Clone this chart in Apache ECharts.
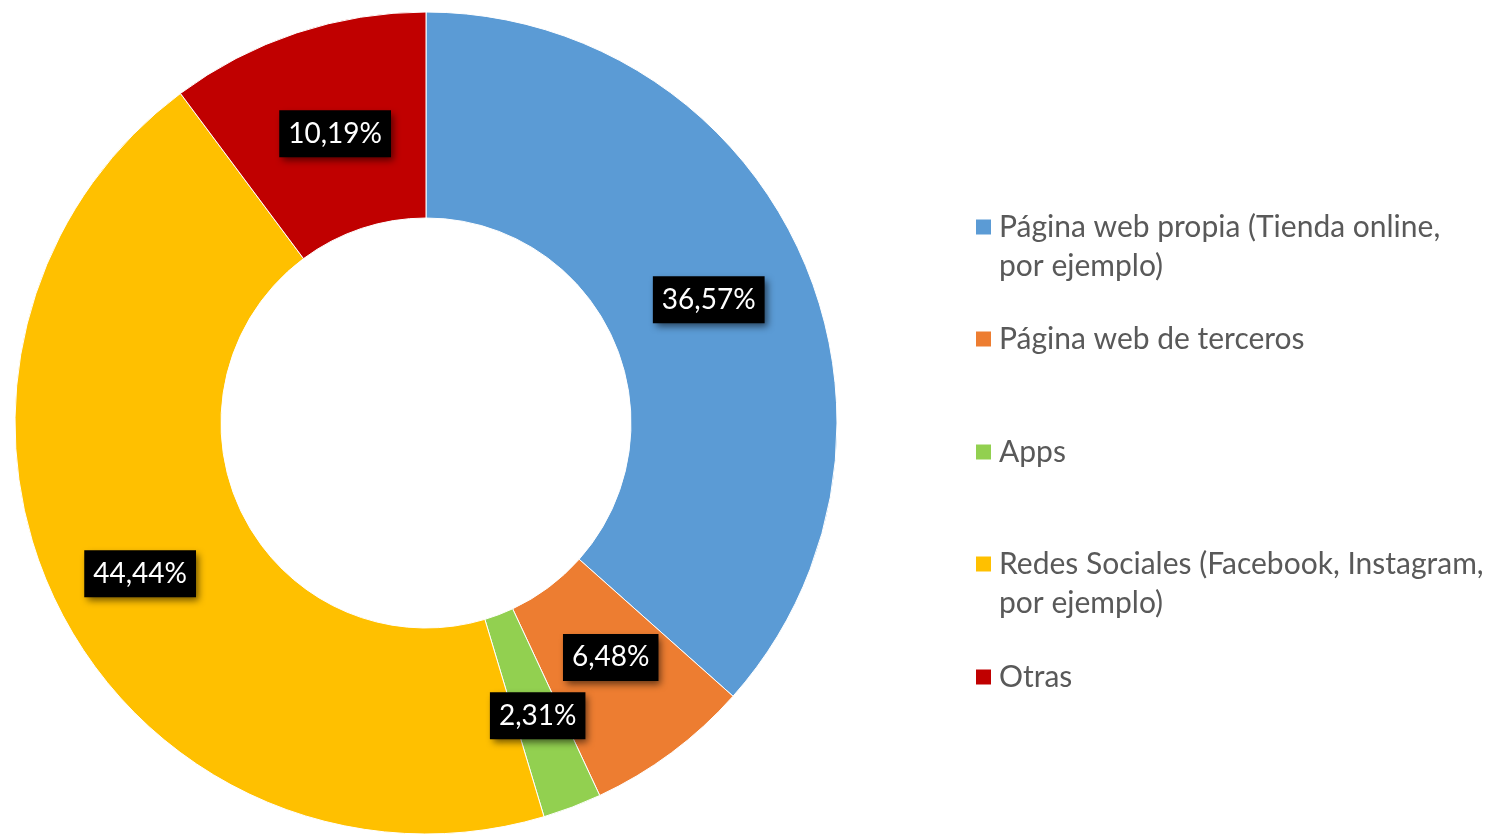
<!DOCTYPE html>
<html>
<head>
<meta charset="utf-8">
<script src="https://cdn.jsdelivr.net/npm/echarts@6/dist/echarts.min.js"></script>
<style>
html,body{margin:0;padding:0;background:#fff;}
#chart{width:1488px;height:834px;}
</style>
</head>
<body>
<div id="chart"></div>
<script>
const categories = [
  'Página web propia (Tienda online, por ejemplo)',
  'Página web de terceros',
  'Apps',
  'Redes Sociales (Facebook, Instagram, por ejemplo)',
  'Otras'
];
const values = [36.57, 6.48, 2.31, 44.44, 10.19];
const colors = ['#5B9BD5', '#ED7D31', '#92D050', '#FFC000', '#C00000'];
const legendLineCenters = [227, 339, 452, 564, 677];
const labelOffsets = [[-1, 4], [-1, -15], [1, 2], [-8, 11], [7, 6]];

const FONT = 'Lato';
const LINE_H = 39;
const SYM = 17;

function wrapName(name) {
  const w = name.replace(', por ejemplo)', ',\npor ejemplo)');
  // keep the first line level with the marker: pad an empty line above two-line names
  return w.indexOf('\n') >= 0 ? ' \n' + w : w;
}

const legends = categories.map(function (name, i) {
  const twoLines = name.indexOf(', por ejemplo)') >= 0;
  return {
    show: true,
    orient: 'vertical',
    left: 974,
    top: legendLineCenters[i] - (twoLines ? 1.5 * LINE_H : 0.5 * LINE_H),
    padding: 0,
    icon: 'rect',
    itemWidth: SYM,
    itemHeight: SYM,
    selectedMode: false,
    formatter: wrapName,
    textStyle: {
      fontFamily: FONT,
      fontSize: 30,
      color: '#595959',
      lineHeight: LINE_H,
      padding: [0, 0, 0, 2]
    },
    data: [name]
  };
});

const chart = echarts.init(document.getElementById('chart'), null, {renderer: 'canvas'});
chart.setOption({
  animation: false,
  backgroundColor: '#ffffff',
  color: colors,
  legend: legends,
  series: [{
    type: 'pie',
    center: [426, 423],
    radius: [205, 411],
    startAngle: 90,
    clockwise: true,
    avoidLabelOverlap: false,
    labelLayout: {hideOverlap: false},
    itemStyle: {borderColor: '#ffffff', borderWidth: 1},
    label: {
      show: true,
      position: 'inside',
      overflow: 'none',
      formatter: function (p) { return p.value.toFixed(2).replace('.', ',') + '%'; },
      fontFamily: FONT,
      fontSize: 28,
      color: '#ffffff',
      backgroundColor: '#000000',
      padding: [8, 9, 8, 9],
      lineHeight: 31,
      shadowColor: 'rgba(0,0,0,0.55)',
      shadowBlur: 7,
      shadowOffsetX: 3,
      shadowOffsetY: 4
    },
    labelLine: {show: false},
    emphasis: {disabled: true},
    data: categories.map(function (c, i) {
      return {name: c, value: values[i], label: {offset: labelOffsets[i]}};
    })
  }]
});
</script>
</body>
</html>
